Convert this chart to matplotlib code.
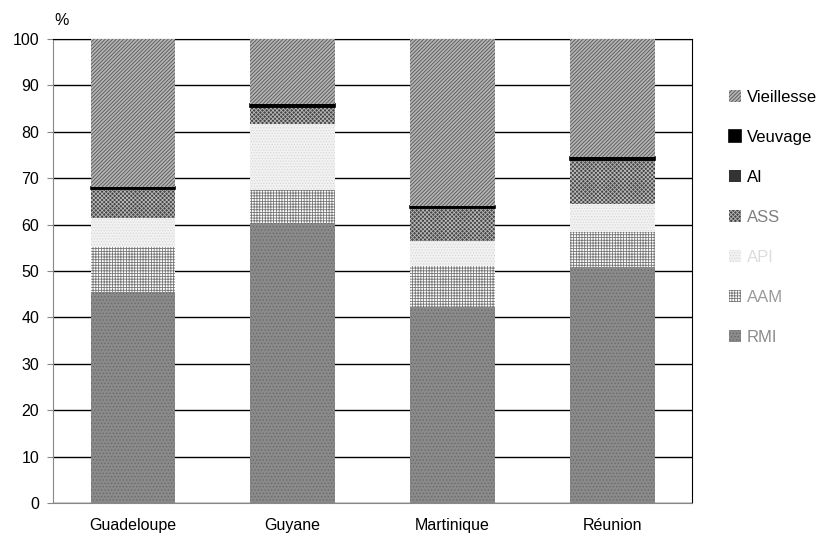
import numpy as np
import matplotlib
matplotlib.use("Agg")
import matplotlib.pyplot as plt

plt.rcParams['font.family'] = ['Liberation Sans', 'DejaVu Sans']
plt.rcParams['hatch.linewidth'] = 0.6

# Share of each benefit, in % of the total, per territory
regions = ['Guadeloupe', 'Guyane', 'Martinique', 'Réunion']
rmi = [45.4, 60.3, 42.3, 50.9]
aam = [9.8, 7.2, 8.8, 7.6]
api = [6.3, 14.1, 5.4, 5.9]
ass = [6.0, 3.6, 6.9, 9.4]
ai = [0.2, 0.2, 0.2, 0.2]
veuvage = [0.5, 0.5, 0.5, 0.5]
vieillesse = [31.8, 14.1, 35.9, 25.5]

yticks = list(range(0, 101, 10))

# name, values, face colour, hatch, hatch colour, label colour
series = [
    ('RMI', rmi, '#8a8a8a', '.....', '#6a6a6a', '#8c8c8c'),
    ('AAM', aam, 'white', '++++++', '#777777', '#9a9a9a'),
    ('API', api, '#f2f2f2', '......', '#d8d8d8', '#dcdcdc'),
    ('ASS', ass, '#444444', 'xxxxxxxx', '#b8b8b8', '#808080'),
    ('AI', ai, '#333333', None, None, 'black'),
    ('Veuvage', veuvage, 'black', None, None, 'black'),
    ('Vieillesse', vieillesse, '#b4b4b4', '/////////', '#555555', 'black'),
]

fig = plt.figure(figsize=(8.22, 5.39), dpi=100)
ax = fig.add_axes([0.0645, 0.0668, 0.7775, 0.8608])

x = np.arange(len(regions))
bottom = np.zeros(len(regions))
handles = []
for name, vals, fc, hatch, hc, tc in series:
    vals = np.array(vals)
    bars = ax.bar(x, vals, 0.53, bottom=bottom, color=fc, linewidth=0,
                  hatch=hatch, zorder=3, label=name)
    if hatch:
        for b in bars:
            b.set_edgecolor(hc)
            b.set_linewidth(0)
    if name == 'Veuvage':
        for b in bars:
            b.set_edgecolor('black')
            b.set_linewidth(1.2)
    bottom += vals
    handles.append(bars)

ax.set_xlim(-0.5, 3.5)
ax.set_ylim(0, 100)
ax.set_yticks(yticks)
ax.set_xticks(x)
ax.set_xticklabels(regions)
ax.tick_params(axis='both', labelsize=11.5, length=0, pad=11)
ax.tick_params(axis='y', length=4, color='#888888', pad=6)
ax.grid(axis='y', color='black', linewidth=1, zorder=0)
ax.set_axisbelow(True)

for side in ['left', 'bottom']:
    ax.spines[side].set_color('#888888')
    ax.spines[side].set_linestyle((0, (1, 1)))
ax.spines['top'].set_color('black')
ax.spines['right'].set_color('black')

fig.text(0.0755, 0.948, '%', fontsize=11.5, ha='center', va='bottom')

leg = ax.legend(handles[::-1], [s[0] for s in series][::-1],
                loc='upper left', bbox_to_anchor=(1.048, 0.905),
                frameon=False, fontsize=12, handlelength=0.7,
                handleheight=0.7, handletextpad=0.35, labelspacing=1.5,
                borderaxespad=0)
for txt, s in zip(leg.get_texts(), series[::-1]):
    txt.set_color(s[5])

fig.savefig('out.png', dpi=100)
